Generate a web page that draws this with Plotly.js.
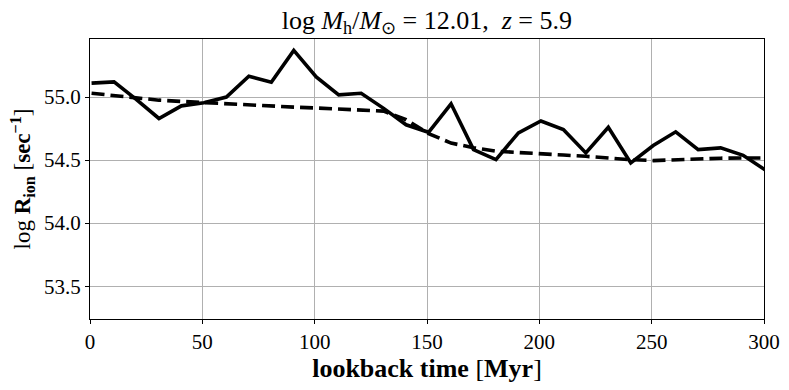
<!DOCTYPE html>
<html>
<head>
<meta charset="utf-8">
<script src="https://cdn.plot.ly/plotly-3.0.1.min.js"></script>
<style>html,body{margin:0;padding:0;background:#fff;}#chart{width:789px;height:390px;}</style>
</head>
<body>
<div id="chart"></div>
<script>
// lookback time [Myr]
const timeMyr = [0.7, 10.7, 20.7, 30.7, 40.7, 50.7, 60.7, 70.7, 80.7, 90.7,
  100.7, 110.7, 120.7, 130.7, 140.7, 150.7, 160.7, 170.7, 180.7, 190.7,
  200.7, 210.7, 220.7, 230.7, 240.7, 250.7, 260.7, 270.7, 280.7, 290.7, 300.7];
// log R_ion, instantaneous (solid)
const logRion = [55.11, 55.12, 54.98, 54.83, 54.93, 54.955, 55.0, 55.165, 55.117, 55.37,
  55.16, 55.017, 55.03, 54.91, 54.78, 54.72, 54.946, 54.583, 54.504, 54.716,
  54.81, 54.742, 54.557, 54.76, 54.478, 54.615, 54.724, 54.583, 54.597, 54.538, 54.42];
// log R_ion, smoothed (dashed)
const logRionSmooth = [55.03, 55.01, 54.99, 54.975, 54.965, 54.955, 54.945, 54.937, 54.93, 54.92,
  54.913, 54.905, 54.897, 54.888, 54.82, 54.71, 54.635, 54.598, 54.57, 54.558,
  54.55, 54.54, 54.53, 54.515, 54.503, 54.496, 54.503, 54.51, 54.515, 54.517, 54.517];
const xTicks = [0, 50, 100, 150, 200, 250, 300];
const yTicks = [53.5, 54.0, 54.5, 55.0];
const yTickText = ["53.5", "54.0", "54.5", "55.0"];

const serif = "Liberation Serif, Times New Roman, serif";

const traces = [
  {x: timeMyr, y: logRion, mode: "lines", line: {color: "#000", width: 3.6}, hoverinfo: "skip"},
  {x: timeMyr, y: logRionSmooth, mode: "lines", line: {color: "#000", width: 3.6, dash: "13px,6px"}, hoverinfo: "skip"}
];

const axisCommon = {
  showline: true, linecolor: "#000", linewidth: 1, mirror: true,
  ticks: "outside", ticklen: 4, tickwidth: 1, tickcolor: "#000",
  showgrid: true, gridcolor: "#b0b0b0", gridwidth: 1, zeroline: false,
  tickfont: {family: serif, size: 21, color: "#000"}
};

const layout = {
  width: 789, height: 390,
  margin: {l: 90, r: 25, t: 39, b: 71},
  paper_bgcolor: "#fff", plot_bgcolor: "#fff",
  showlegend: false,
  title: {
    text: "log <i>M</i><sub>h</sub>/<i>M</i><sub>⊙</sub> = 12.01,  <i>z</i> = 5.9",
    font: {family: serif, size: 26, color: "#000"},
    x: 0.541, xanchor: "center", y: 0.95, yanchor: "middle"
  },
  xaxis: Object.assign({}, axisCommon, {
    range: [0, 300], tickvals: xTicks, ticktext: xTicks.map(String),
    title: {text: "<b>lookback time</b> [<b>Myr</b>]", font: {family: serif, size: 26, color: "#000"}, standoff: 5}
  }),
  yaxis: Object.assign({}, axisCommon, {
    range: [53.24, 55.46], tickvals: yTicks, ticktext: yTickText,
    title: {text: "log <b>R</b><sub><b>ion</b></sub> [<b>sec</b><sup><b>−1</b></sup>]", font: {family: serif, size: 23, color: "#000"}, standoff: 6}
  })
};

Plotly.newPlot("chart", traces, layout, {displayModeBar: false, staticPlot: true});
</script>
</body>
</html>
